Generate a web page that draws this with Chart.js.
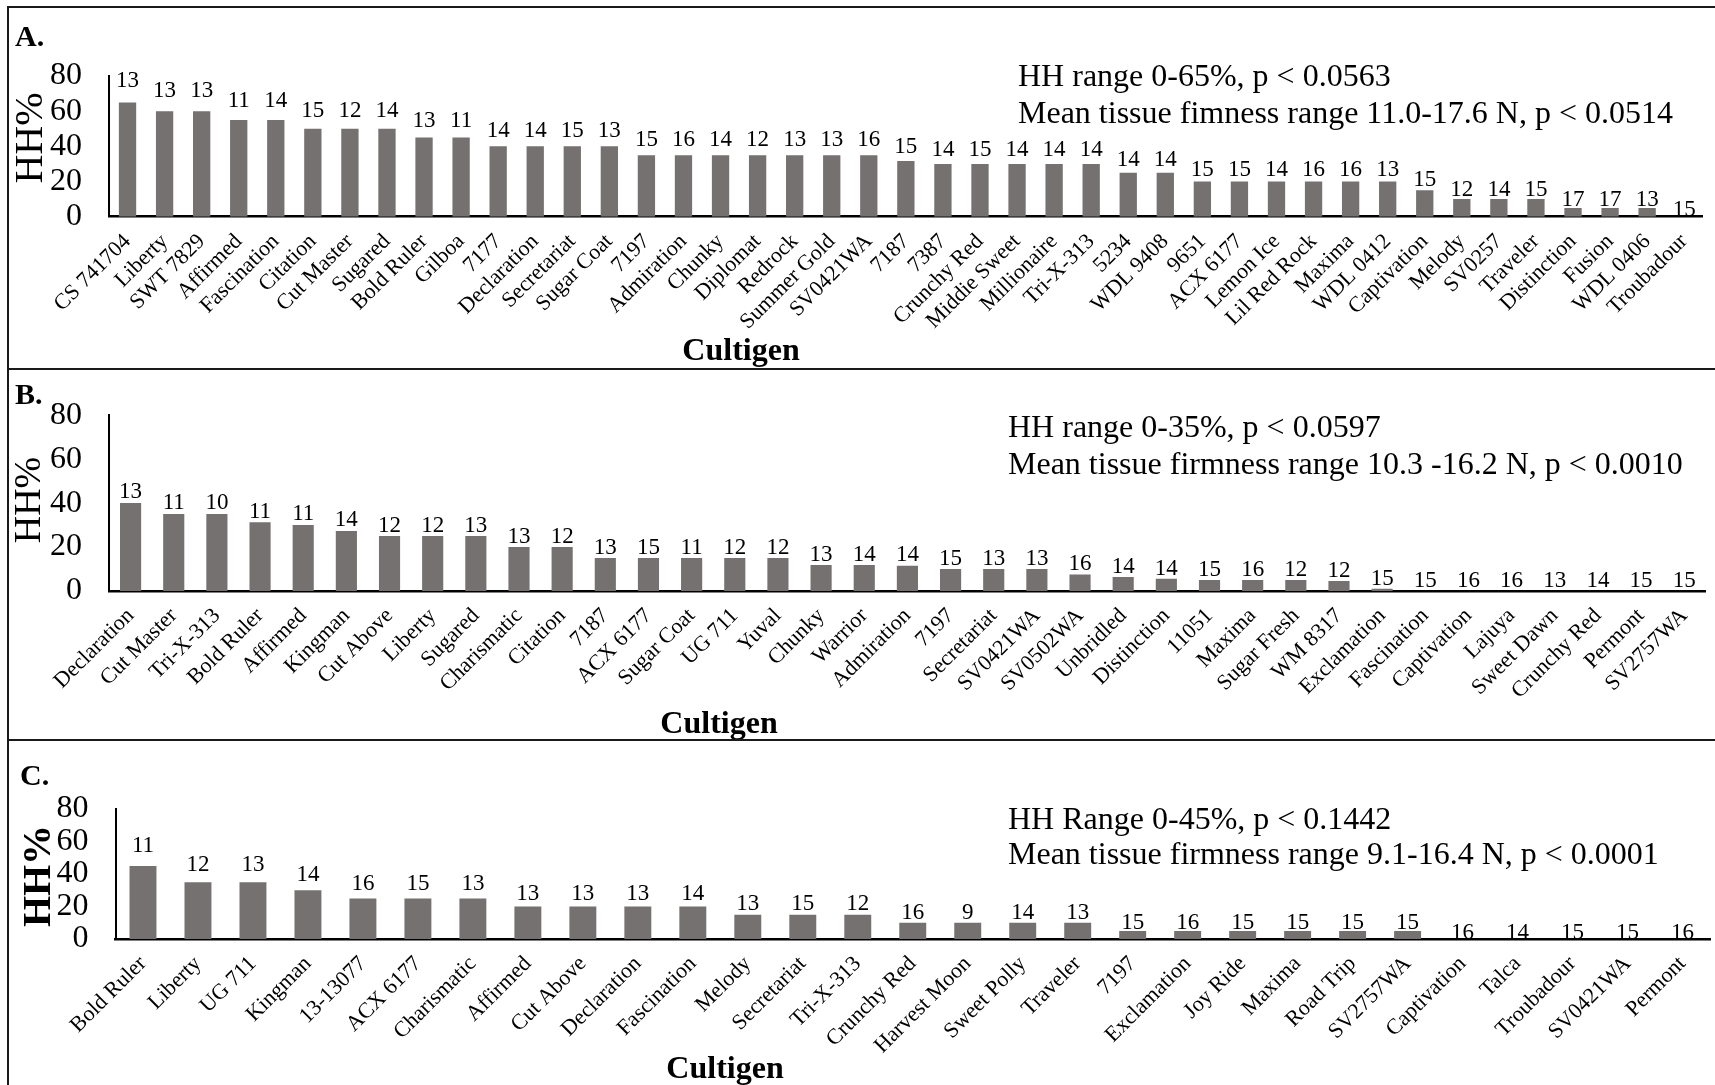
<!DOCTYPE html>
<html>
<head>
<meta charset="utf-8">
<title>Hollow heart by cultigen</title>
<script src="https://cdn.jsdelivr.net/npm/chart.js@4.4.1/dist/chart.umd.min.js"></script>
<style>
  html, body { margin: 0; padding: 0; background: #fff; }
  #page { position: relative; width: 1715px; height: 1085px; overflow: hidden; background: #fff; }
  .panel { position: absolute; left: 0; width: 1715px; }
  .panel canvas { display: block; }
  .rule { position: absolute; background: #1a1a1a; }
</style>
</head>
<body>
<div id="page">
  <div class="panel" style="top:0;height:369px"><canvas id="chartA" width="1715" height="369"></canvas></div>
  <div class="panel" style="top:369px;height:371px"><canvas id="chartB" width="1715" height="371"></canvas></div>
  <div class="panel" style="top:740px;height:345px"><canvas id="chartC" width="1715" height="345"></canvas></div>

  <!-- frame and panel separators -->
  <div class="rule" style="left:7px;top:6px;width:2px;height:1079px"></div>
  <div class="rule" style="left:7px;top:6px;width:1708px;height:2px"></div>
  <div class="rule" style="left:7px;top:368px;width:1708px;height:2px"></div>
  <div class="rule" style="left:7px;top:739px;width:1708px;height:2px"></div>
</div>

<script>
/* Panel A */
const cultigensA = ['CS 741704', 'Liberty', 'SWT 7829', 'Affirmed', 'Fascination', 'Citation', 'Cut Master',
  'Sugared', 'Bold Ruler', 'Gilboa', '7177', 'Declaration', 'Secretariat', 'Sugar Coat', '7197', 'Admiration',
  'Chunky', 'Diplomat', 'Redrock', 'Summer Gold', 'SV0421WA', '7187', '7387', 'Crunchy Red', 'Middie Sweet',
  'Millionaire', 'Tri-X-313', '5234', 'WDL 9408', '9651', 'ACX 6177', 'Lemon Ice', 'Lil Red Rock', 'Maxima',
  'WDL 0412', 'Captivation', 'Melody', 'SV0257', 'Traveler', 'Distinction', 'Fusion', 'WDL 0406', 'Troubadour'];
const hhA = [65, 60, 60, 55, 55, 50, 50, 50, 45, 45, 40, 40, 40, 40, 35, 35,
  35, 35, 35, 35, 35, 31.7, 30, 30, 30,
  30, 30, 25, 25, 20, 20, 20, 20, 20,
  20, 15, 10, 10, 10, 5, 5, 5, 0];
const nA = [13, 13, 13, 11, 14, 15, 12, 14, 13, 11, 14, 14, 15, 13, 15, 16,
  14, 12, 13, 13, 16, 15, 14, 15, 14,
  14, 14, 14, 14, 15, 15, 14, 16, 16,
  13, 15, 12, 14, 15, 17, 17, 13, 15];

/* Panel B */
const cultigensB = ['Declaration', 'Cut Master', 'Tri-X-313', 'Bold Ruler', 'Affirmed', 'Kingman', 'Cut Above',
  'Liberty', 'Sugared', 'Charismatic', 'Citation', '7187', 'ACX 6177', 'Sugar Coat', 'UG 711', 'Yuval',
  'Chunky', 'Warrior', 'Admiration', '7197', 'Secretariat', 'SV0421WA', 'SV0502WA', 'Unbridled', 'Distinction',
  '11051', 'Maxima', 'Sugar Fresh', 'WM 8317', 'Exclamation', 'Fascination', 'Captivation', 'Lajuya',
  'Sweet Dawn', 'Crunchy Red', 'Permont', 'SV2757WA'];
const hhB = [40, 35, 35, 31.3, 30, 27.3, 25,
  25, 25, 20, 20, 15, 15, 15, 15, 15,
  11.8, 11.8, 11.5, 10, 10, 10, 7.5, 6.4, 5.6,
  5, 5, 5, 4.5, 1, 0, 0, 0,
  0, 0, 0, 0];
const nB = [13, 11, 10, 11, 11, 14, 12,
  12, 13, 13, 12, 13, 15, 11, 12, 12,
  13, 14, 14, 15, 13, 13, 16, 14, 14,
  15, 16, 12, 12, 15, 15, 16, 16,
  13, 14, 15, 15];

/* Panel C */
const cultigensC = ['Bold Ruler', 'Liberty', 'UG 711', 'Kingman', '13-13077', 'ACX 6177', 'Charismatic',
  'Affirmed', 'Cut Above', 'Declaration', 'Fascination', 'Melody', 'Secretariat', 'Tri-X-313', 'Crunchy Red',
  'Harvest Moon', 'Sweet Polly', 'Traveler', '7197', 'Exclamation', 'Joy Ride', 'Maxima', 'Road Trip',
  'SV2757WA', 'Captivation', 'Talca', 'Troubadour', 'SV0421WA', 'Permont'];
const hhC = [45, 35, 35, 30, 25, 25, 25,
  20, 20, 20, 20, 15, 15, 15, 10,
  10, 10, 10, 5, 5, 5, 5, 5,
  5, 0, 0, 0, 0, 0];
const nC = [11, 12, 13, 14, 16, 15, 13,
  13, 13, 13, 14, 13, 15, 12, 16,
  9, 14, 13, 15, 16, 15, 15, 15,
  15, 16, 14, 15, 15, 16];

const yTicks = [0, 20, 40, 60, 80];

const SERIF = "'Liberation Serif', 'Times New Roman', Times, serif";
const BAR = '#767171';

// sample counts written over each bar
const countLabels = {
  id: 'countLabels',
  afterDatasetsDraw(chart, args, o) {
    const ctx = chart.ctx;
    const meta = chart.getDatasetMeta(0);
    const vals = chart.data.datasets[0].data;
    ctx.save();
    ctx.font = '23px ' + SERIF;
    ctx.fillStyle = '#000';
    ctx.textAlign = 'center';
    ctx.textBaseline = 'alphabetic';
    meta.data.forEach((bar, i) => {
      const gap = o.gap0 + o.gapSlope * vals[i];
      ctx.fillText(String(o.counts[i]), bar.x, bar.y - gap);
    });
    ctx.restore();
  }
};

// panel letter, stats notes, axis titles
const panelText = {
  id: 'panelText',
  afterDraw(chart, args, o) {
    const ctx = chart.ctx;
    ctx.save();
    ctx.fillStyle = '#000';
    ctx.textAlign = 'left';
    ctx.textBaseline = 'alphabetic';
    ctx.font = 'bold 30px ' + SERIF;
    ctx.fillText(o.letter, o.letterX, o.letterY);

    ctx.font = '32px ' + SERIF;
    o.notes.forEach((t, i) => ctx.fillText(t, o.noteX, o.noteY + i * o.noteStep));

    ctx.textAlign = 'center';
    ctx.textBaseline = 'middle';
    ctx.font = 'bold 32px ' + SERIF;
    ctx.fillText('Cultigen', o.titleX, o.titleY);

    ctx.translate(o.yTitleX, o.yTitleY);
    ctx.rotate(-Math.PI / 2);
    ctx.font = (o.yTitleBold ? 'bold ' : '') + o.yTitleSize + 'px ' + SERIF;
    ctx.fillText('HH%', 0, 0);
    ctx.restore();
  }
};

function makePanel(id, cats, values, counts, geo, text) {
  return new Chart(document.getElementById(id), {
    type: 'bar',
    data: {
      labels: cats,
      datasets: [{
        data: values,
        backgroundColor: BAR,
        borderWidth: 0,
        barPercentage: geo.barPct,
        categoryPercentage: 1
      }]
    },
    options: {
      responsive: false,
      animation: false,
      layout: { padding: { left: 0, right: geo.right, top: geo.top, bottom: 0 } },
      plugins: {
        legend: { display: false },
        tooltip: { enabled: false },
        countLabels: { counts: counts, gap0: geo.gap0, gapSlope: geo.gapSlope },
        panelText: text
      },
      scales: {
        x: {
          grid: { display: false, drawTicks: false },
          border: { color: '#000', width: 2.5 },
          ticks: {
            autoSkip: false,
            minRotation: 45,
            maxRotation: 45,
            padding: 12,
            color: '#000',
            font: { family: SERIF, size: 22 }
          },
          afterFit: s => { s.height = geo.xHeight; }
        },
        y: {
          min: 0,
          max: 80,
          grid: { display: false, drawTicks: false },
          border: { color: '#000', width: 2 },
          afterBuildTicks: s => { s.ticks = yTicks.map(v => ({ value: v })); },
          ticks: {
            autoSkip: false,
            padding: 27,
            color: '#000',
            font: { family: SERIF, size: 32 }
          },
          afterFit: s => { s.width = geo.yWidth; }
        }
      }
    },
    plugins: [countLabels, panelText]
  });
}

makePanel('chartA', cultigensA, hhA, nA,
  { top: 76, right: 12, yWidth: 109, xHeight: 152.3, barPct: 0.467, gap0: 1, gapSlope: 0.22 },
  {
    letter: 'A.', letterX: 15, letterY: 46,
    notes: ['HH range 0-65%, p < 0.0563', 'Mean tissue fimness range 11.0-17.6 N, p < 0.0514'],
    noteX: 1018, noteY: 86, noteStep: 36.7,
    titleX: 741, titleY: 352,
    yTitleX: 31, yTitleY: 138, yTitleSize: 40, yTitleBold: false
  });

makePanel('chartB', cultigensB, hhB, nB,
  { top: 46, right: 7, yWidth: 109, xHeight: 149, barPct: 0.49, gap0: 4, gapSlope: 0.02 },
  {
    letter: 'B.', letterX: 15, letterY: 35,
    notes: ['HH range 0-35%, p < 0.0597', 'Mean tissue firmness range 10.3 -16.2 N, p < 0.0010'],
    noteX: 1008, noteY: 68, noteStep: 37,
    titleX: 719, titleY: 356,
    yTitleX: 30, yTitleY: 131, yTitleSize: 38, yTitleBold: false
  });

makePanel('chartC', cultigensC, hhC, nC,
  { top: 69, right: 5, yWidth: 115.5, xHeight: 146, barPct: 0.49, gap0: 0.5, gapSlope: 0.3 },
  {
    letter: 'C.', letterX: 20, letterY: 45,
    notes: ['HH Range 0-45%, p < 0.1442', 'Mean tissue firmness range 9.1-16.4 N, p < 0.0001'],
    noteX: 1008, noteY: 88.5, noteStep: 35,
    titleX: 725, titleY: 330,
    yTitleX: 40, yTitleY: 136, yTitleSize: 40, yTitleBold: true
  });
</script>
</body>
</html>
